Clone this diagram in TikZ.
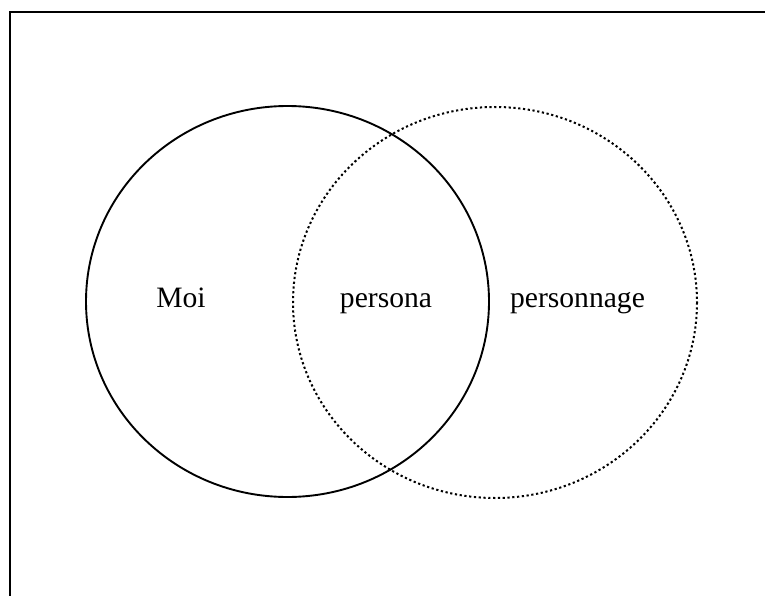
\documentclass[tikz,border=0pt]{standalone}
\usepackage{fontspec}
\setmainfont{Liberation Serif}
\begin{document}
\begin{tikzpicture}[x=1pt,y=-1pt,
  lbl/.style={anchor=base,inner sep=0pt,font=\fontsize{29.6}{34}\selectfont},
  solidc/.style={draw=black,line width=1.9pt},
  dotc/.style={draw=black,line width=2pt,dash pattern=on 2.2pt off 2.6pt}]
\useasboundingbox (0,0) rectangle (765,596);
\fill[white] (0,0) rectangle (765,596);
\draw[line width=2.6pt] (10,596) -- (10,12) -- (765,12);
\draw[solidc] (287.5,301.5) ellipse [x radius=201.5, y radius=195.5];
\draw[dotc] (495,302.5) ellipse [x radius=202, y radius=195.5];
\node[lbl] (moi) at (181,307) {Moi};
\node[lbl] (persona) at (386,307) {persona};
\node[lbl] (personnage) at (577.5,307) {personnage};
\end{tikzpicture}
\end{document}
